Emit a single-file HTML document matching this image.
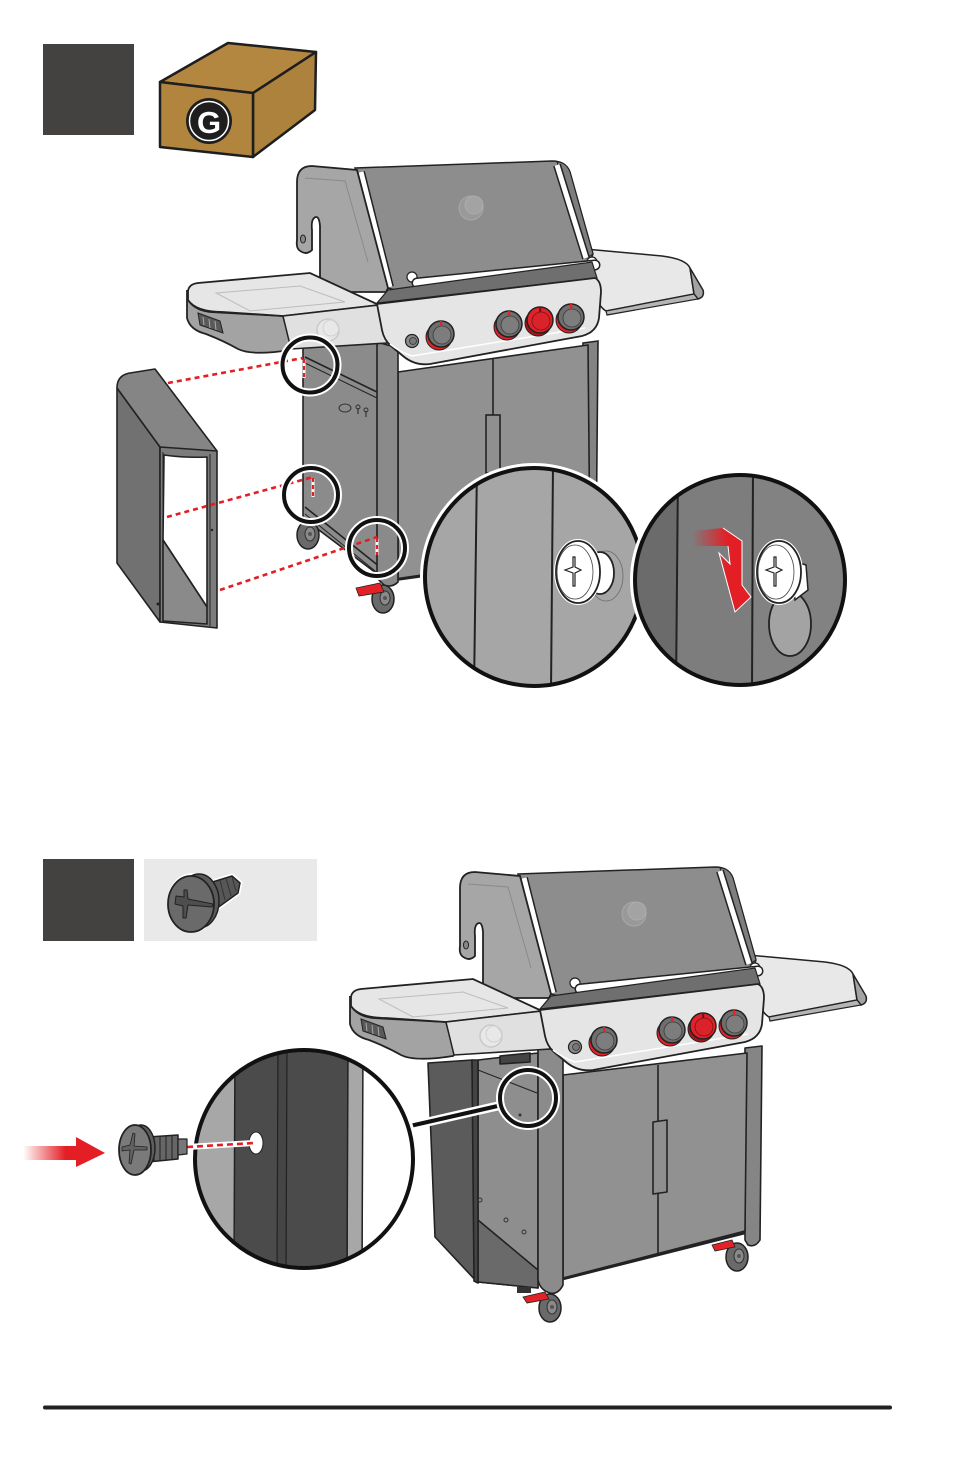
<!DOCTYPE html>
<html><head><meta charset="utf-8"><style>
html,body{margin:0;padding:0;background:#fff;}
svg{display:block;}
</style></head><body>
<svg width="954" height="1474" viewBox="0 0 954 1474" xmlns="http://www.w3.org/2000/svg" font-family="Liberation Sans, sans-serif">
<defs>
  <linearGradient id="arrH" x1="0" y1="0" x2="1" y2="0">
    <stop offset="0" stop-color="#e31e24" stop-opacity="0"/>
    <stop offset="0.75" stop-color="#e31e24" stop-opacity="1"/>
  </linearGradient>
  <linearGradient id="arrH2" gradientUnits="userSpaceOnUse" x1="692" y1="0" x2="728" y2="0">
    <stop offset="0" stop-color="#e31e24" stop-opacity="0"/>
    <stop offset="1" stop-color="#e31e24" stop-opacity="1"/>
  </linearGradient>
  <clipPath id="c1"><circle cx="534" cy="577" r="109"/></clipPath>
  <clipPath id="c2"><circle cx="740" cy="580" r="105"/></clipPath>
  <clipPath id="c3"><circle cx="304" cy="1159" r="109"/></clipPath>

  <g id="knob">
    <circle cx="-2" cy="3" r="13" fill="#e32228" stroke="#222" stroke-width="1"/>
    <circle cx="0" cy="0" r="13" fill="#6e6e6e" stroke="#222" stroke-width="1.5"/>
    <circle cx="1" cy="1" r="9" fill="#7d7d7d" stroke="#3a3a3a" stroke-width="0.8"/>
    <rect x="-1" y="-13" width="2.2" height="5" fill="#e32228"/>
  </g>
  <g id="knobred">
    <circle cx="-2" cy="3" r="13" fill="#a8161b" stroke="#222" stroke-width="1"/>
    <circle cx="0" cy="0" r="13" fill="#e32228" stroke="#222" stroke-width="1.5"/>
    <circle cx="1" cy="1" r="9" fill="#d9222a" stroke="#7a1015" stroke-width="0.8"/>
    <rect x="-1" y="-13" width="2.2" height="5" fill="#7a1015"/>
  </g>
  <g id="caster">
    <ellipse cx="0" cy="0" rx="11" ry="14" fill="#6a6a6a" stroke="#222" stroke-width="1.5"/>
    <ellipse cx="2" cy="-1" rx="5" ry="7" fill="#8a8a8a" stroke="#333" stroke-width="1"/>
    <circle cx="2" cy="-1" r="2" fill="#555"/>
  </g>

  <g id="grilltop">
    <!-- right table -->
    <path d="M585,249 L662,256 Q686,259 690,268 L694,294 L606,311 Q598,306 597,296 Z" fill="#e8e8e8" stroke="#222" stroke-width="1.5"/>
    <path d="M690,268 L703,290 Q705,297 698,299 L694,294 Z" fill="#a3a3a3" stroke="#222" stroke-width="1.5"/>
    <path d="M606,311 L694,294 L698,299 L607,315 Z" fill="#b5b5b5" stroke="#222" stroke-width="1.2"/>
    <!-- lid -->
    <path d="M355,168 L552,161 Q566,161 570,172 L593,254 L590,262 L395,290 L388,288 Z" fill="#8d8d8d" stroke="#222" stroke-width="1.5"/>
    <path d="M557,162 Q566,162 570,172 L593,254 L587,258 Z" fill="#7e7e7e" stroke="#222" stroke-width="1"/>
    <line x1="361" y1="172" x2="390" y2="287" stroke="#222" stroke-width="8"/>
    <line x1="361" y1="172" x2="390" y2="287" stroke="#fff" stroke-width="5"/>
    <line x1="557" y1="165" x2="586" y2="258" stroke="#222" stroke-width="8"/>
    <line x1="557" y1="165" x2="586" y2="258" stroke="#fff" stroke-width="5"/>
    <circle cx="471" cy="208" r="12" fill="#999" stroke="#a8a8a8" stroke-width="1"/>
    <circle cx="474" cy="205" r="9" fill="#a3a3a3" stroke="#b0b0b0" stroke-width="0.8"/>
    <!-- end cap -->
    <path d="M297,182 Q297,166 312,166 L357,170 L388,288 L386,292 L320,292 L320,226 Q319,214 314,218 Q311,221 312,230 L312,250 Q306,256 299,250 Q296,247 297,240 Z" fill="#a6a6a6" stroke="#222" stroke-width="1.8"/>
    <path d="M305,178 L345,181 L368,262" fill="none" stroke="#8a8a8a" stroke-width="1"/>
    <ellipse cx="303" cy="239" rx="2.5" ry="4" fill="#888" stroke="#222" stroke-width="1"/>
    <!-- handle -->
    <circle cx="412" cy="277" r="5" fill="#fff" stroke="#222" stroke-width="1.2"/>
    <circle cx="592" cy="262" r="5" fill="#fff" stroke="#222" stroke-width="1.2"/>
    <line x1="417" y1="283" x2="595" y2="265" stroke="#222" stroke-width="11" stroke-linecap="round"/>
    <line x1="417" y1="283" x2="595" y2="265" stroke="#fff" stroke-width="8" stroke-linecap="round"/>
    <!-- band under lid -->
    <path d="M388,290 L592,262 L597,278 L377,303 Z" fill="#6f6f6f" stroke="#222" stroke-width="1.2"/>
    <!-- left table -->
    <path d="M187,290 L187,318 Q190,330 206,334 Q224,341 238,349 Q252,356 290,350 L292,348 L283,316 L210,312 Q193,310 187,298 Z" fill="#a3a3a3" stroke="#222" stroke-width="1.8"/>
    <path d="M188,291 Q189,284 198,283 L310,273 L379,305 L283,316 L223,312 Q196,312 188,300 Z" fill="#e6e6e6" stroke="#222" stroke-width="1.8"/>
    <path d="M216,293 L300,286 L345,302 L250,311 Z" fill="none" stroke="#bdbdbd" stroke-width="1"/>
    <path d="M198,313 L220,321 L223,333 L200,325 Z" fill="#5a5a5a" stroke="#222" stroke-width="1"/>
    <line x1="203" y1="317" x2="204" y2="325" stroke="#aaa" stroke-width="1"/>
    <line x1="209" y1="319" x2="210" y2="328" stroke="#aaa" stroke-width="1"/>
    <line x1="215" y1="321" x2="216" y2="330" stroke="#aaa" stroke-width="1"/>
    <!-- bezel -->
    <path d="M283,316 L379,305 L387,343 L291,349 Z" fill="#e0e0e0" stroke="#222" stroke-width="1.5"/>
    <circle cx="328" cy="330" r="11" fill="#e8e8e8" stroke="#c9c9c9" stroke-width="1.5"/>
    <circle cx="331" cy="328" r="8" fill="none" stroke="#d2d2d2" stroke-width="1"/>
    <!-- control panel -->
    <path d="M377,304 L595,278 Q601,281 601,292 L599,318 Q597,332 582,336 L430,364 Q415,366 403,356 L391,346 Q384,340 382,330 Z" fill="#e5e5e5" stroke="#222" stroke-width="1.8"/>
    <path d="M390,344 Q400,352 412,356 L585,328" fill="none" stroke="#fff" stroke-width="1.5"/>
    <circle cx="412" cy="341" r="6.5" fill="#8a8a8a" stroke="#222" stroke-width="1.2"/>
    <circle cx="413" cy="341" r="3.5" fill="#777" stroke="#333" stroke-width="0.8"/>
    <use href="#knob" transform="translate(441,334)"/>
    <use href="#knob" transform="translate(509,324)"/>
    <use href="#knobred" transform="translate(540,320)"/>
    <use href="#knob" transform="translate(571,317)"/>
  </g>
</defs>

<rect width="954" height="1474" fill="#fff"/>

<!-- ========== SECTION 1 header ========== -->
<rect x="43" y="44" width="91" height="91" fill="#434240"/>
<g stroke="#1e1e1e" stroke-width="2.5" stroke-linejoin="round">
  <path d="M160,82 L228,43 L316,52 L253,93 Z" fill="#b3873f"/>
  <path d="M253,93 L316,52 L315,110 L253,157 Z" fill="#ad823c"/>
  <path d="M160,82 L253,93 L253,157 L160,147 Z" fill="#b2853f"/>
</g>
<circle cx="209" cy="121" r="23" fill="#1e1e1e"/>
<circle cx="209" cy="121" r="19.5" fill="none" stroke="#fff" stroke-width="1.5"/>
<text x="209" y="133" text-anchor="middle" font-size="31" font-weight="bold" fill="#fff">G</text>

<!-- ========== SECTION 1 grill ========== -->
<g stroke="#222" stroke-width="1.6">
  <path d="M303,340 L380,340 L380,576 L303,518 Z" fill="#8b8b8b"/>
  <line x1="305" y1="357" x2="377" y2="392"/>
  <line x1="305" y1="363" x2="377" y2="398" stroke-width="1"/>
  <line x1="305" y1="507" x2="380" y2="567"/>
  <line x1="305" y1="514" x2="380" y2="575" stroke-width="1"/>
  <path d="M583,343 L598,341 L596,560 L583,562 Z" fill="#838383"/>
  <path d="M398,372 L588,345 L590,553 L398,580 Z" fill="#919191"/>
  <line x1="493" y1="358" x2="493" y2="566"/>
  <rect x="486" y="415" width="14" height="58" fill="#8f8f8f"/>
  <path d="M377,342 L398,348 L398,582 Q392,588 384,585 L377,578 Z" fill="#8a8a8a"/>
  <line x1="398" y1="579" x2="590" y2="551" stroke-width="2.5"/>
</g>
<ellipse cx="345" cy="408" rx="6" ry="4" fill="none" stroke="#333" stroke-width="1"/>
<path d="M358,408 l0,6 M366,411 l0,6" stroke="#333" stroke-width="1.2"/>
<circle cx="358" cy="407" r="2" fill="none" stroke="#333" stroke-width="1"/>
<circle cx="366" cy="410" r="2" fill="none" stroke="#333" stroke-width="1"/>
<use href="#caster" transform="translate(308,535)"/>
<use href="#caster" transform="translate(383,599)"/>
<path d="M356,588 L380,583 L384,592 L359,596 Z" fill="#e32228" stroke="#222" stroke-width="0.8"/>

<use href="#grilltop"/>

<!-- side panel -->
<g stroke="#222" stroke-width="1.6" stroke-linejoin="round">
  <path d="M117,388 L160,447 L160,622 L117,563 Z" fill="#717171"/>
  <path d="M117,388 Q117,375 130,373 L155,369 L217,451 L212,455 L160,447 Z" fill="#858585"/>
  <path d="M160,447 L217,451 L217,628 L160,622 Z" fill="#7c7c7c"/>
  <path d="M164,455 Q185,458 207,457 L207,607 L163,540 Z" fill="#fff"/>
  <path d="M163,540 L207,607 L207,624 L163,621 Z" fill="#8a8a8a"/>
  <line x1="163" y1="452" x2="163" y2="622" stroke-width="1"/>
  <line x1="210" y1="454" x2="210" y2="626" stroke-width="1"/>
</g>
<circle cx="212" cy="530" r="1.2" fill="#222"/>
<circle cx="158" cy="604" r="1.5" fill="#222"/>

<!-- dashed lines -->
<g stroke="#e31e24" stroke-width="2.6" stroke-dasharray="5,4" fill="none">
  <path d="M168,383 L303,358"/>
  <path d="M167,517 L313,477"/>
  <path d="M220,590 L377,537"/>
</g>
<g stroke="#fff" stroke-width="3">
  <line x1="304" y1="360" x2="304" y2="378"/>
  <line x1="313" y1="479" x2="313" y2="497"/>
  <line x1="377" y1="539" x2="377" y2="555"/>
</g>
<g stroke="#e31e24" stroke-width="2.2" stroke-dasharray="4,3">
  <line x1="304" y1="359" x2="304" y2="378"/>
  <line x1="313" y1="478" x2="313" y2="497"/>
  <line x1="377" y1="538" x2="377" y2="555"/>
</g>
<g fill="none">
  <circle cx="310" cy="365" r="27.5" stroke="#fff" stroke-width="8"/>
  <circle cx="310" cy="365" r="27.5" stroke="#111" stroke-width="4"/>
  <circle cx="311" cy="495" r="27" stroke="#fff" stroke-width="8"/>
  <circle cx="311" cy="495" r="27" stroke="#111" stroke-width="4"/>
  <circle cx="377" cy="548" r="28" stroke="#fff" stroke-width="8"/>
  <circle cx="377" cy="548" r="28" stroke="#111" stroke-width="4"/>
</g>

<!-- big circle 1 -->
<circle cx="534" cy="577" r="114" fill="#fff"/>
<g clip-path="url(#c1)">
  <rect x="420" y="460" width="240" height="240" fill="#a6a6a6"/>
  <line x1="477" y1="465" x2="474" y2="690" stroke="#222" stroke-width="2"/>
  <line x1="553" y1="465" x2="551" y2="690" stroke="#222" stroke-width="2"/>
  <ellipse cx="606" cy="576" rx="17" ry="25" fill="none" stroke="#6a6a6a" stroke-width="0.8"/>
  <ellipse cx="600" cy="573" rx="14" ry="21" fill="#fff" stroke="#222" stroke-width="1.8"/>
  <ellipse cx="578" cy="572" rx="22" ry="31" fill="#fff" stroke="#fff" stroke-width="4"/>
  <ellipse cx="578" cy="572" rx="22" ry="31" fill="#fff" stroke="#222" stroke-width="1.8"/>
  <ellipse cx="575" cy="572" rx="18" ry="27" fill="none" stroke="#444" stroke-width="0.8"/>
  <path d="M573,557 L573,567 L565,570 L573,573 L573,586 L575,586 L575,573 L581,570 L575,567 L575,557 Z" fill="#fff" stroke="#222" stroke-width="1.2"/>
</g>
<circle cx="534" cy="577" r="109" fill="none" stroke="#111" stroke-width="4"/>

<!-- big circle 2 -->
<circle cx="740" cy="580" r="110" fill="#fff"/>
<g clip-path="url(#c2)">
  <rect x="630" y="470" width="230" height="220" fill="#7d7d7d"/>
  <rect x="630" y="470" width="47" height="220" fill="#6b6b6b"/>
  <rect x="752" y="470" width="100" height="220" fill="#828282"/>
  <line x1="678" y1="470" x2="676" y2="690" stroke="#222" stroke-width="2"/>
  <line x1="753" y1="470" x2="752" y2="690" stroke="#222" stroke-width="2"/>
  <ellipse cx="790" cy="624" rx="21" ry="32" fill="#a3a3a3" stroke="#222" stroke-width="1.8"/>
  <path d="M790,560 L806,565 L808,590 L795,600 Z" fill="#fff" stroke="#222" stroke-width="1.5"/>
  <ellipse cx="779" cy="572" rx="22" ry="31" fill="#fff" stroke="#fff" stroke-width="4"/>
  <ellipse cx="779" cy="572" rx="22" ry="31" fill="#fff" stroke="#222" stroke-width="1.8"/>
  <ellipse cx="776" cy="572" rx="18" ry="27" fill="none" stroke="#444" stroke-width="0.8"/>
  <path d="M774,557 L774,567 L766,570 L774,573 L774,586 L776,586 L776,573 L782,570 L776,567 L776,557 Z" fill="#fff" stroke="#222" stroke-width="1.2"/>
  <path d="M692,531 L723,528 L742,541 L742,585 L751,597 L735,612 L719,553 L730,564 L728,546 L692,546 Z" fill="url(#arrH2)"/>
  <path d="M723,528 L742,541 L742,585 L751,597 L735,612 L719,553 L730,564 L728,546" fill="none" stroke="#fff" stroke-width="1"/>
</g>
<circle cx="740" cy="580" r="105" fill="none" stroke="#111" stroke-width="4"/>

<!-- ========== SECTION 2 header ========== -->
<rect x="43" y="859" width="91" height="82" fill="#434240"/>
<rect x="144" y="859" width="173" height="82" fill="#e9e9e9"/>
<g stroke-linejoin="round">
  <path d="M206,884 L232,876 L240,883 L238,893 L213,911 Z" fill="#fff" stroke="#fff" stroke-width="5"/>
  <ellipse cx="192" cy="903" rx="25" ry="30" fill="#fff"/>
  <path d="M206,884 L232,876 L240,883 L238,893 L213,911 Z" fill="#575757" stroke="#222" stroke-width="1.5"/>
  <path d="M214,882 l5,22 M220,880 l5,20 M226,878 l5,18 M232,877 l4,14" stroke="#333" stroke-width="1"/>
  <ellipse cx="199" cy="901" rx="20" ry="27" fill="#5a5a5a" stroke="#222" stroke-width="1.5"/>
  <ellipse cx="191" cy="904" rx="23" ry="28" fill="#6a6a6a" stroke="#222" stroke-width="1.8"/>
  <path d="M176,896 L184,897 L184,890 L187,890 L188,899 L213,904 L212,907 L188,905 L186,918 L183,918 L183,906 L175,904 Z" fill="#4e4e4e" stroke="#222" stroke-width="1"/>
</g>

<!-- ========== SECTION 2 grill ========== -->
<g stroke="#222" stroke-width="1.6" stroke-linejoin="round">
  <path d="M478,1060 L538,1053 L538,1288 L478,1282 Z" fill="#8e8e8e"/>
  <path d="M478,1220 L538,1270 L538,1288 L478,1282 Z" fill="#6a6a6a"/>
  <line x1="478" y1="1070" x2="537" y2="1093" stroke-width="1"/>
  <path d="M500,1056 L530,1053 L530,1062 L500,1064 Z" fill="#444"/>
  <path d="M428,1063 L472,1060 L478,1283 L435,1237 Z" fill="#5b5b5b"/>
  <path d="M472,1060 L478,1060 L478,1283 L474,1281 Z" fill="#444"/>
  <path d="M745,1048 L762,1046 L760,1240 Q755,1248 748,1245 L745,1240 Z" fill="#858585"/>
  <path d="M563,1075 L747,1053 L745,1231 L563,1278 Z" fill="#919191"/>
  <line x1="658" y1="1065" x2="658" y2="1254"/>
  <path d="M653,1122 L667,1120 L667,1192 L653,1194 Z" fill="#8f8f8f"/>
  <path d="M538,1045 L563,1050 L563,1285 Q558,1295 550,1293 Q540,1290 538,1280 Z" fill="#8b8b8b"/>
  <line x1="563" y1="1279" x2="745" y2="1233" stroke-width="2.5"/>
</g>
<circle cx="520" cy="1115" r="1.5" fill="#333"/>
<circle cx="506" cy="1220" r="2" fill="none" stroke="#333"/>
<circle cx="524" cy="1232" r="2" fill="none" stroke="#333"/>
<circle cx="480" cy="1200" r="2" fill="none" stroke="#333"/>
<rect x="517" y="1287" width="14" height="6" fill="#333"/>
<use href="#caster" transform="translate(550,1308)"/>
<use href="#caster" transform="translate(737,1257)"/>
<path d="M523,1297 L545,1292 L549,1299 L527,1303 Z" fill="#e32228" stroke="#222" stroke-width="0.8"/>
<path d="M712,1245 L732,1240 L735,1247 L715,1251 Z" fill="#e32228" stroke="#222" stroke-width="0.8"/>

<use href="#grilltop" transform="translate(163,706)"/>

<line x1="410" y1="1126" x2="502" y2="1105" stroke="#fff" stroke-width="9"/>
<line x1="410" y1="1126" x2="502" y2="1105" stroke="#111" stroke-width="4"/>
<circle cx="528" cy="1098" r="28" fill="none" stroke="#fff" stroke-width="8"/>
<circle cx="528" cy="1098" r="28" fill="none" stroke="#111" stroke-width="4"/>

<!-- big circle 3 -->
<circle cx="304" cy="1159" r="114" fill="#fff"/>
<g clip-path="url(#c3)">
  <rect x="190" y="1045" width="240" height="230" fill="#fff"/>
  <rect x="190" y="1045" width="45" height="230" fill="#a7a7a7"/>
  <rect x="235" y="1045" width="113" height="230" fill="#4b4b4b"/>
  <rect x="277" y="1045" width="10" height="230" fill="#454545"/>
  <line x1="278" y1="1045" x2="277" y2="1275" stroke="#222" stroke-width="1.2"/>
  <line x1="287" y1="1045" x2="286" y2="1275" stroke="#222" stroke-width="1.2"/>
  <line x1="235" y1="1045" x2="234" y2="1275" stroke="#222" stroke-width="1.5"/>
  <rect x="348" y="1045" width="15" height="230" fill="#a7a7a7"/>
  <line x1="348" y1="1045" x2="347" y2="1275" stroke="#222" stroke-width="1.5"/>
  <line x1="363" y1="1045" x2="362" y2="1275" stroke="#222" stroke-width="1.5"/>
  <ellipse cx="256" cy="1143" rx="7" ry="11" fill="#fff" stroke="#222" stroke-width="1"/>
</g>
<circle cx="304" cy="1159" r="109" fill="none" stroke="#111" stroke-width="4"/>

<line x1="187" y1="1147" x2="254" y2="1143" stroke="#fff" stroke-width="6"/>
<line x1="187" y1="1147" x2="254" y2="1143" stroke="#e31e24" stroke-width="2.6" stroke-dasharray="6,4"/>
<g stroke="#222" stroke-linejoin="round">
  <path d="M148,1137 L178,1135 L178,1159 L148,1162 Z" fill="#666" stroke-width="1.5"/>
  <path d="M178,1139 L187,1139 L187,1154 L178,1155 Z" fill="#777" stroke-width="1.2"/>
  <path d="M154,1136 l0,26 M160,1136 l0,25 M166,1136 l0,25 M172,1135 l0,24" stroke-width="1"/>
  <ellipse cx="141" cy="1148" rx="14" ry="23" fill="#5e5e5e" stroke-width="1.5"/>
  <ellipse cx="135" cy="1150" rx="16" ry="25" fill="#7a7a7a" stroke-width="1.8"/>
  <path d="M122,1147 L130,1145 L133,1133 L135,1134 L134,1146 L147,1147 L147,1150 L134,1150 L131,1164 L129,1163 L130,1150 L122,1151 Z" fill="#626262" stroke-width="0.8"/>
</g>
<rect x="23" y="1146" width="57" height="14" fill="url(#arrH)"/>
<path d="M76,1137 L105,1153 L76,1167 Z" fill="#e31e24"/>

<line x1="45" y1="1407.5" x2="890" y2="1407.5" stroke="#222" stroke-width="4" stroke-linecap="round"/>
</svg>
</body></html>
